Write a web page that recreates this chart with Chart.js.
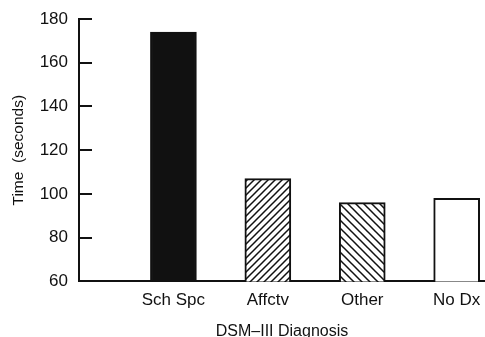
<!doctype html>
<html lang="en">
<head>
  <meta charset="utf-8">
  <title>DSM-III Diagnosis</title>
  <script src="https://cdn.jsdelivr.net/npm/chart.js@4.4.0/dist/chart.umd.min.js"></script>
  <style>
    html, body { margin: 0; padding: 0; background: #fff; }
    #wrap { width: 485px; height: 337px; }
  </style>
</head>
<body>
  <div id="wrap"><canvas id="myChart"></canvas></div>
  <script>
    const categories = ['Sch Spc', 'Affctv', 'Other', 'No Dx'];
    const positions = [1, 2, 3, 4];
    const times = [174, 107, 96, 98];
    const yTicks = [60, 80, 100, 120, 140, 160, 180];

    const ink = '#111';
    const ctx = document.getElementById('myChart').getContext('2d');

    // diagonal hatch fill, dir 1 = "/" and -1 = "\"
    function hatch(dir, s) {
      const c = document.createElement('canvas');
      c.width = s; c.height = s;
      const g = c.getContext('2d');
      g.fillStyle = '#fff';
      g.fillRect(0, 0, s, s);
      g.strokeStyle = ink;
      g.lineWidth = 1.5;
      g.beginPath();
      if (dir > 0) {
        g.moveTo(0, s); g.lineTo(s, 0);
        g.moveTo(-1, 1); g.lineTo(1, -1);
        g.moveTo(s - 1, s + 1); g.lineTo(s + 1, s - 1);
      } else {
        g.moveTo(0, 0); g.lineTo(s, s);
        g.moveTo(s - 1, -1); g.lineTo(s + 1, 1);
        g.moveTo(-1, s - 1); g.lineTo(1, s + 1);
      }
      g.stroke();
      return ctx.createPattern(c, 'repeat');
    }

    const fills = [ink, hatch(1, 7), hatch(-1, 8), '#fff'];

    Chart.defaults.font.family = '"Liberation Sans", Arial, sans-serif';
    Chart.defaults.color = ink;

    new Chart(ctx, {
      type: 'bar',
      data: {
        datasets: [{
          data: positions.map((x, i) => ({ x: x, y: times[i] })),
          backgroundColor: fills,
          borderColor: ink,
          borderWidth: 2,
          borderSkipped: 'bottom',
          barThickness: 46,
        }],
      },
      options: {
        responsive: true,
        maintainAspectRatio: false,
        animation: false,
        layout: { padding: { top: 19, right: 0, bottom: -4, left: 5 } },
        plugins: { legend: { display: false }, tooltip: { enabled: false } },
        scales: {
          x: {
            type: 'linear',
            offset: false,
            min: 0,
            max: 4.3,
            afterBuildTicks: s => { s.ticks = positions.map(v => ({ value: v })); },
            grid: { display: false },
            border: { display: true, color: ink, width: 2 },
            ticks: {
              padding: 1,
              font: { size: 17 },
              callback: v => categories[positions.indexOf(v)] || '',
            },
            title: {
              display: true,
              text: 'DSM–III Diagnosis',
              font: { size: 16 },
              padding: { top: 10, bottom: 0 },
            },
          },
          y: {
            min: 60,
            max: 180,
            afterBuildTicks: s => { s.ticks = yTicks.map(v => ({ value: v })); },
            afterFit: s => { s.width = 74; s.paddingTop = 0; s.paddingBottom = 0; },
            grid: {
              drawOnChartArea: false,
              drawTicks: true,
              tickLength: -13,
              color: ink,
              lineWidth: 2,
            },
            border: { display: true, color: ink, width: 2 },
            ticks: { padding: 24, font: { size: 17 } },
            title: {
              display: true,
              text: 'Time  (seconds)',
              font: { size: 15.5 },
              padding: { top: 4, bottom: 4 },
            },
          },
        },
      },
    });
  </script>
</body>
</html>
